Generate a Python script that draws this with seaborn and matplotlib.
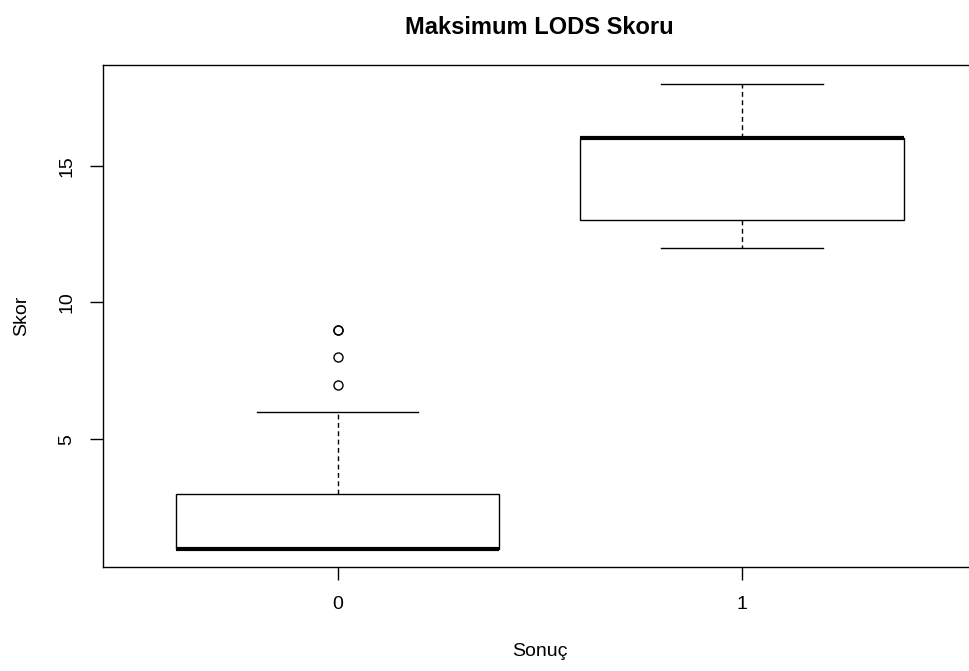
import matplotlib
matplotlib.use("Agg")
import matplotlib.pyplot as plt
import seaborn as sns
import pandas as pd

# Data (reconstructed so the box statistics match the reference)
sonuc_0 = [1, 1, 1, 1, 1, 1, 1, 1, 1, 1, 1, 1, 1, 1, 1, 1,
           2, 2, 2, 3, 3, 3, 3, 3, 4, 5, 6, 7, 8, 9, 9]
sonuc_1 = [12, 13, 13, 13, 14, 16, 16, 16, 16, 16, 18]
categories = ["0", "1"]

df = pd.DataFrame({
    "Sonuç": [categories[0]] * len(sonuc_0) + [categories[1]] * len(sonuc_1),
    "Skor": sonuc_0 + sonuc_1,
})

plt.rcParams["font.family"] = ["Liberation Sans", "DejaVu Sans"]

fig = plt.figure(figsize=(9.70, 6.71), dpi=100)
ax = fig.add_axes([102.9 / 970, 1 - 567.3 / 671, 873.7 / 970, 502.3 / 671])

sns.boxplot(
    data=df, x="Sonuç", y="Skor", order=categories, ax=ax,
    color="white", linecolor="black", linewidth=1.0, width=0.8,
    whis=1.5, fliersize=6.5, saturation=1,
    whiskerprops={"linestyle": (0, (3.5, 2.5))},
    medianprops={"linewidth": 3.0, "color": "black"},
    flierprops={"marker": "o", "markerfacecolor": "none",
                "markeredgecolor": "black", "markeredgewidth": 1.0},
)

ax.set_xlim(-0.58, 1.58)
ax.set_ylim(0.32, 18.68)
ax.set_yticks([5, 10, 15])
ax.set_yticklabels(["5", "10", "15"])

for sp in ax.spines.values():
    sp.set_visible(True)
    sp.set_color("black")
    sp.set_linewidth(1.0)

ax.tick_params(axis="both", which="major", length=9.4, width=1.0,
               color="black", labelsize=14, labelcolor="black")
ax.tick_params(axis="x", pad=11)
ax.tick_params(axis="y", pad=10.5)
for lab in ax.get_yticklabels():
    lab.set_rotation(90)
    lab.set_va("center")
    lab.set_ha("right")

ax.set_xlabel("Sonuç", fontsize=14)
ax.set_ylabel("Skor", fontsize=14)
ax.xaxis.set_label_coords(0.5, -0.151)
ax.yaxis.set_label_coords(-0.083, 0.5)

fig.text(539.8 / 970, 1 - 28 / 671, "Maksimum LODS Skoru", ha="center",
         va="center", fontsize=17, fontweight="bold")

fig.savefig("out.png", dpi=100, facecolor="white")
